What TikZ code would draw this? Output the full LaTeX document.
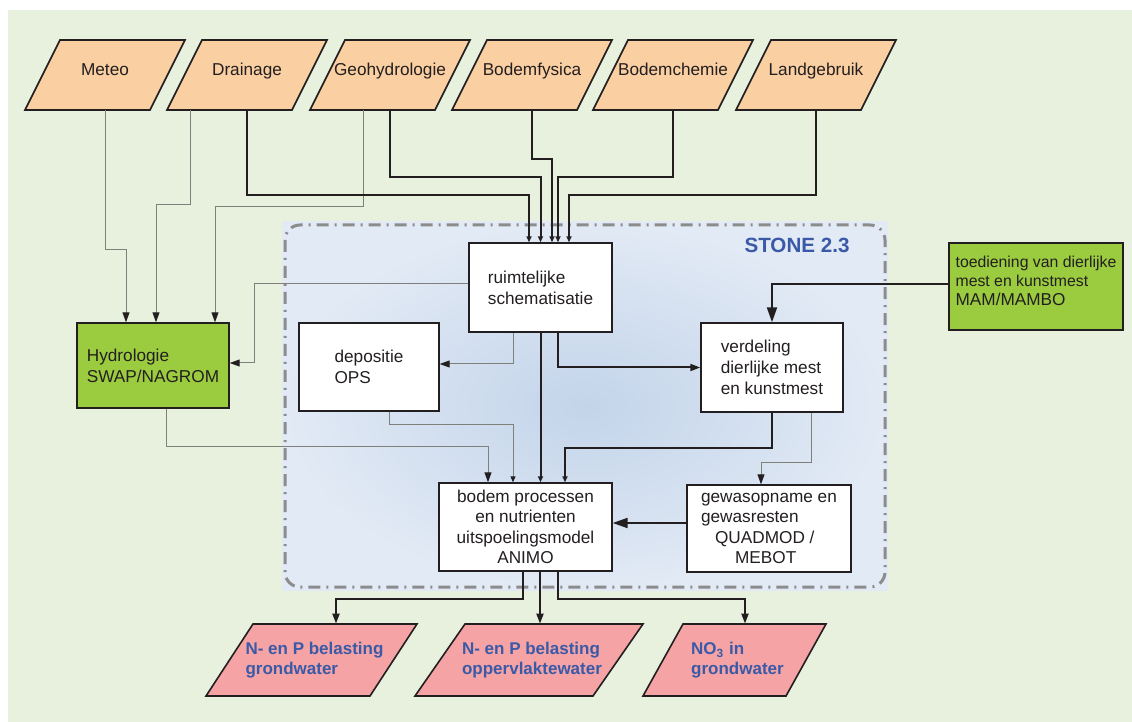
\documentclass[tikz,border=0pt]{standalone}
\usepackage{fontspec}
\setmainfont{Liberation Sans}
\usetikzlibrary{arrows.meta}
\definecolor{bggreen}{HTML}{E8F1DE}
\definecolor{peach}{HTML}{FACFA1}
\definecolor{grassgreen}{HTML}{9BCB3F}
\definecolor{pinkout}{HTML}{F5A3A4}
\definecolor{stonein}{HTML}{C3D4EA}
\definecolor{stoneout}{HTML}{E2EAF5}
\definecolor{stoneline}{HTML}{8C8C8C}
\definecolor{bluetxt}{HTML}{3A5AA8}
\definecolor{linegray}{HTML}{7E8079}
\definecolor{inkdark}{HTML}{231F20}

\begin{document}
\begin{tikzpicture}[x=0.5pt,y=-0.5pt,
  txt/.style={font=\fontsize{8.6}{10.5}\selectfont, text=inkdark},
  sourceshape/.style={draw=inkdark, line width=0.8pt, fill=peach},
  source/.style={rectangle, minimum width=80pt, minimum height=35pt, inner sep=0pt,
    text height=6.5pt, text depth=6pt, txt},
  resultshape/.style={draw=inkdark, line width=0.8pt, fill=pinkout},
  result/.style={rectangle, minimum height=36pt, inner sep=0pt, align=left,
    font=\fontsize{8.5}{10}\selectfont\bfseries, text=bluetxt},
  modelbox/.style={rectangle, draw=inkdark, line width=0.7pt, fill=white, inner sep=0pt, align=left, txt},
  greenbox/.style={modelbox, fill=grassgreen},
  thinline/.style={draw=linegray, line width=0.5pt},
  thickline/.style={draw=inkdark, line width=1pt},
  bigtip/.style={-{Triangle[length=7.5pt,width=5pt,color=inkdark]}},
  midtip/.style={-{Triangle[length=5pt,width=3.5pt,color=inkdark]}},
  smalltip/.style={-{Triangle[length=3pt,width=2.5pt,color=inkdark]}}
]
  \useasboundingbox (0,0) rectangle (1132,722);
  \fill[white] (0,0) rectangle (1132,722);
  \fill[bggreen] (8,10) rectangle (1132,722);
  \shade[inner color=stonein, outer color=stoneout] (282,222) rectangle (888,590);
  \draw[stoneline, line width=1.5pt, rounded corners=7.5pt, dash pattern=on 6pt off 3pt on 1pt off 3pt]
    (285,225) rectangle (885,587);
  \node[font=\fontsize{10.3}{12}\selectfont\bfseries, text=bluetxt] (stone) at (797,245) {STONE 2.3};

  \foreach \cx/\nodeid/\word in {105/meteo/Meteo, 247/drain/Drainage, 390/geo/Geohydrologie,
      532/fysica/Bodemfysica, 673/chemie/Bodemchemie, 816/landgebr/Landgebruik} {
    \filldraw[sourceshape] (\cx-80,110) -- ++(125,0) -- ++(35,-70) -- ++(-125,0) -- cycle;
    \node[source] (\nodeid) at (\cx,75) {\word};
  }

  \node[modelbox, minimum width=71.5pt, minimum height=44.5pt] (ruimte) at (540.5,287.5) {ruimtelijke\\schematisatie};
  \node[greenbox, minimum width=76pt, minimum height=42.5pt] (hydro) at (153,365.5) {Hydrologie\\SWAP/NAGROM};
  \node[modelbox, minimum width=70pt, minimum height=44pt] (depositie) at (369,367) {depositie\\OPS\hspace*{6pt}};
  \node[modelbox, minimum width=71pt, minimum height=44.5pt] (verdeling) at (772,367.5) {verdeling\\dierlijke mest\\en kunstmest};
  \node[greenbox, minimum width=87pt, minimum height=43.5pt, text depth=6pt, font=\fontsize{7.9}{9.5}\selectfont] (toediening) at (1036,286.5)
    {toediening van dierlijke\\mest en kunstmest\\{\fontsize{8.6}{9.5}\selectfont MAM/MAMBO}};
  \node[modelbox, align=center, minimum width=86.5pt, minimum height=44pt, font=\fontsize{8.6}{10.2}\selectfont] (bodem) at (525.5,527)
    {bodem processen\\en nutrienten\\uitspoelingsmodel\\ANIMO};
  \node[modelbox, minimum width=82pt, minimum height=43.5pt, font=\fontsize{8.6}{10.2}\selectfont] (gewas) at (769,528.5)
    {gewasopname en\\gewasresten\\\hspace*{7pt}QUADMOD /\\\hspace*{17pt}MEBOT};

  \foreach \bl/\bw/\lean/\nodeid/\word in {206/164/47/grondw/{N- en P belasting\\grondwater},
      415/178/50/opperw/{N- en P belasting\\oppervlaktewater}, 643/143/40/nitraat/{NO\textsubscript{3} in\\grondwater}} {
    \filldraw[resultshape] (\bl,696) -- ++(\bw,0) -- ++(\lean,-72) -- ++(-\bw,0) -- cycle;
    \node[result] (\nodeid) at ({\bl+(\bw+\lean)/2+3},660) {\word};
  }

  \draw[thinline, midtip] (meteo.south) -- ++(0,139) -| ([xshift=-13.5pt]hydro.north);
  \draw[thinline, midtip] ([xshift=-28.5pt]drain.south) -- ++(0,94) -| ([xshift=1.5pt]hydro.north);
  \draw[thinline, midtip] ([xshift=-13.5pt]geo.south) -- ++(0,96) -| ([xshift=31pt]hydro.north);
  \draw[thinline, midtip] ([yshift=1.75pt]ruimte.west) -- ++(-214,0) |- ([yshift=1.25pt]hydro.east);
  \draw[thinline, midtip] ([xshift=-13.75pt]ruimte.south) |- ([yshift=1.5pt]depositie.east);
  \draw[thinline, midtip] ([xshift=6.5pt]hydro.south) -- ++(0,38) -| ([xshift=-18.75pt]bodem.north);
  \draw[thinline, smalltip] ([xshift=10pt]depositie.south) -- ++(0,13) -| ([xshift=-6.25pt]bodem.north);
  \draw[thinline, midtip] ([xshift=19.5pt]verdeling.south) -- ++(0,50) -| ([xshift=-4pt]gewas.north);

  \draw[thickline, smalltip] (drain.south) -- ++(0,85) -| ([xshift=-5.75pt]ruimte.north);
  \draw[thickline, smalltip] (geo.south) -- ++(0,67) -| (ruimte.north);
  \draw[thickline, smalltip] (fysica.south) -- ++(0,49) -| ([xshift=5.75pt]ruimte.north);
  \draw[thickline, smalltip] (chemie.south) -- ++(0,67) -| ([xshift=8.75pt]ruimte.north);
  \draw[thickline, smalltip] (landgebr.south) -- ++(0,85) -| ([xshift=14.25pt]ruimte.north);
  \draw[thickline, midtip] ([xshift=8.75pt]ruimte.south) |- (verdeling.west);
  \draw[thickline, smalltip] (ruimte.south) -- (ruimte.south |- bodem.north);
  \draw[thickline, bigtip] ([yshift=1.25pt]toediening.west) -| (verdeling.north);
  \draw[thickline, smalltip] (verdeling.south) -- ++(0,35) -| ([xshift=19.75pt]bodem.north);
  \draw[thickline, bigtip] ([yshift=2.75pt]gewas.west) -- ([yshift=2.75pt]gewas.west -| bodem.east);
  \draw[thickline, midtip] ([xshift=-1.25pt]bodem.south) -- ++(0,27) -| ([xshift=10.75pt]grondw.north);
  \draw[thickline, midtip] ([xshift=7.25pt]bodem.south) -- ([xshift=7.25pt]bodem.south |- opperw.north);
  \draw[thickline, midtip] ([xshift=16.25pt]bodem.south) -- ++(0,27) -| ([xshift=3.75pt]nitraat.north);
\end{tikzpicture}
\end{document}
